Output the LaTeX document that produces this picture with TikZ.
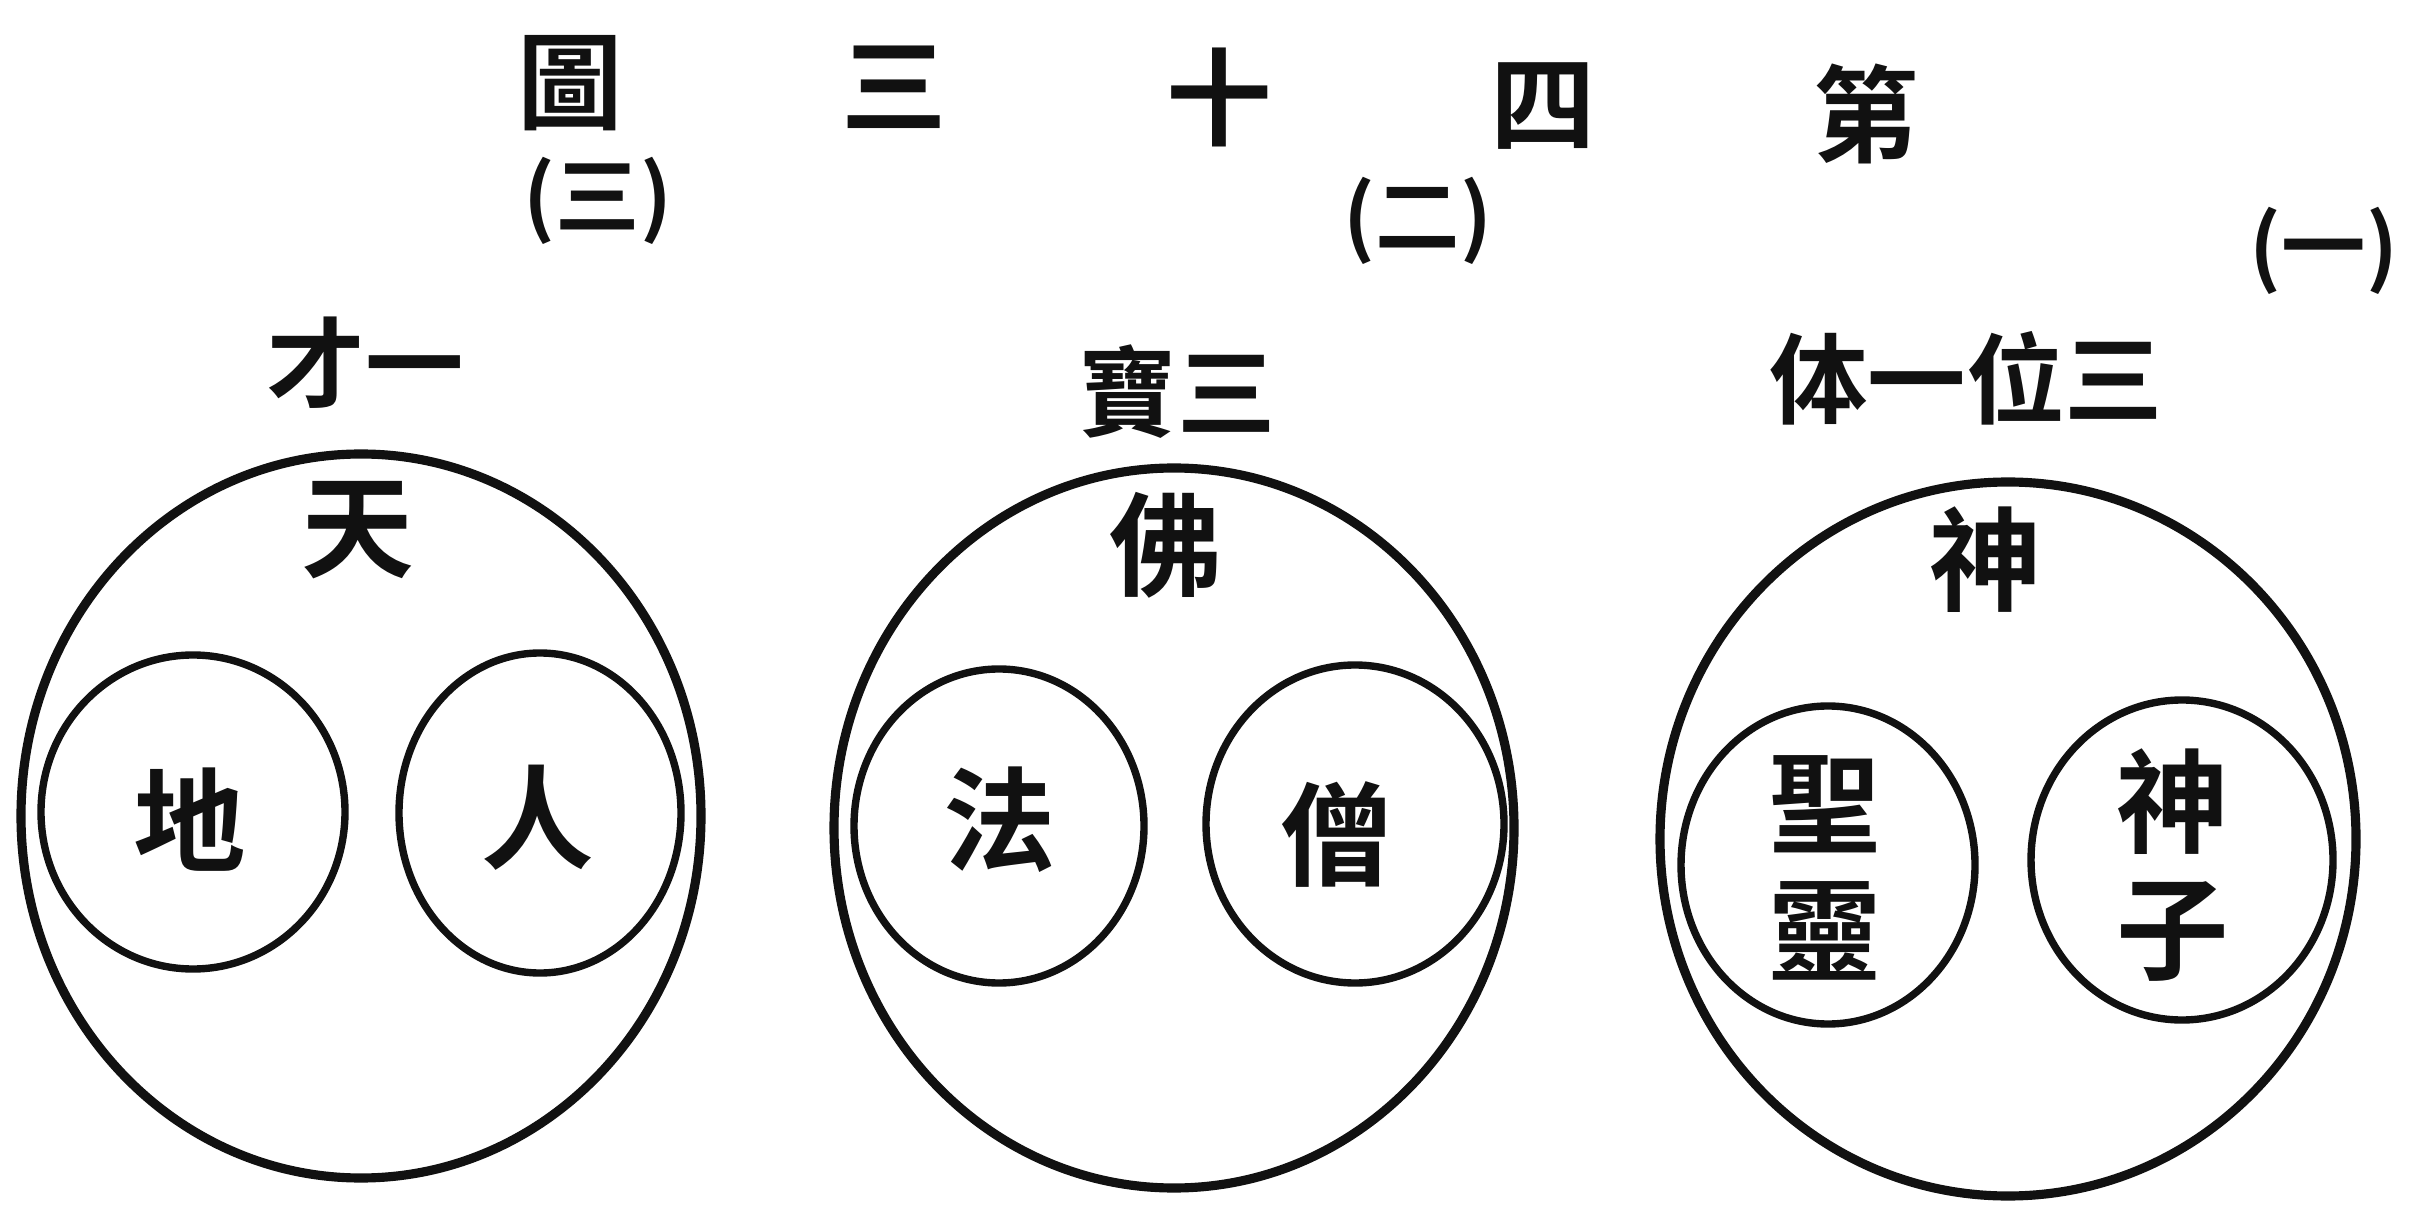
\documentclass[tikz,border=0pt]{standalone}
\usepackage{fontspec}
\newfontfamily\hanzi{Noto Sans CJK TC}[BoldFont={Noto Sans CJK TC Bold}]
\definecolor{Paper}{HTML}{FFFFFF}
\definecolor{Ink}{HTML}{111111}

\begin{document}
\begin{tikzpicture}[x=0.01cm,y=-0.01cm,every node/.style={font=\hanzi\bfseries,text=Ink,inner sep=0pt},
  ring/.style={Ink,line width=2.6pt},disc/.style={Ink,line width=2.1pt},
  headch/.style={font=\hanzi\bfseries\fontsize{30}{32}\selectfont},
  numch/.style={font=\hanzi\bfseries\fontsize{24}{26}\selectfont},
  namech/.style={font=\hanzi\bfseries\fontsize{28}{30}\selectfont},
  cellch/.style={font=\hanzi\bfseries\fontsize{32}{36}\selectfont,align=center}]
\fill[Paper] (0,0) rectangle (2413,1207); \useasboundingbox (0,0) rectangle (2413,1207);
% title, read from right to left
\foreach \ch/\x/\y [count=\i] in {圖/570/83,三/894/87,十/1219/97,四/1543/106,第/1866/114}{\node[headch] (t\i) at (\x,\y){\ch};}
\node[numch] (n3) at (598,201){(三)}; \node[numch] (n2) at (1418,221){(二)}; \node[numch] (n1) at (2324,251){(一)};
\node[namech] (s3) at (365,363){才一}; \node[namech] (s2) at (1177,392){寶三}; \node[namech] (s1) at (1966,378){体一位三};
% outer rings
\draw[ring] (361,816) ellipse [x radius=340,y radius=362]; \draw[ring] (1174,828) ellipse [x radius=340,y radius=360];
\draw[ring] (2008,839) ellipse [x radius=348,y radius=357];
% inner rings
\foreach \x/\y/\rx/\ry in {193/812/152/157,540/813/141/160,999/826/145/157,1355/824/149/159,1828/865/147/159,2182/860/151/160}
  {\draw[disc] (\x,\y) ellipse [x radius=\rx,y radius=\ry];}
\node[cellch] (tian) at (358,530){天}; \node[cellch] (fo) at (1166,545){佛}; \node[cellch] (shen) at (1986,560){神};
\node[cellch] (di) at (190,820){地}; \node[cellch] (ren) at (538,818){人};
\node[cellch] (fa) at (1000,820){法}; \node[cellch] (seng) at (1337,835){僧};
\node[cellch] (shengling) at (1825,868){聖\\靈}; \node[cellch] (shenzi) at (2173,865){神\\子};
\end{tikzpicture}
\end{document}
